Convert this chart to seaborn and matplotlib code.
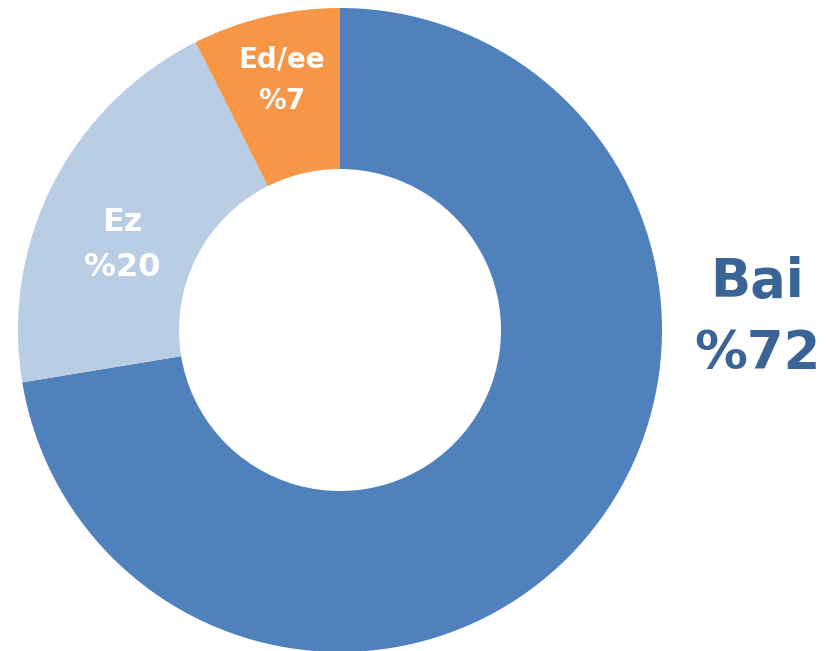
import matplotlib
matplotlib.use("Agg")
import matplotlib.pyplot as plt
import seaborn as sns

categories = ["Bai", "Ez", "Ed/ee"]
shares = [72.4, 20.2, 7.4]
pct_labels = ["%72", "%20", "%7"]
colors = ["#4F81BD", "#B9CDE5", "#F79646"]

sns.set_theme(style="white")
plt.rcParams["font.family"] = ["DejaVu Sans"]

fig = plt.figure(figsize=(8.28, 6.51), dpi=100)
ax = fig.add_axes([18 / 828, -1 / 651, 644 / 828, 644 / 651])

ax.pie(shares, colors=sns.color_palette(colors), startangle=90, counterclock=False,
       radius=1, wedgeprops=dict(width=0.5, linewidth=0))
ax.set_xlim(-1, 1)
ax.set_ylim(-1, 1)
ax.set_aspect("equal")
ax.axis("off")

# label placement: (x, y of first line, line gap, font size, color)
label_style = {
    "Bai": (1.295, 0.15, 0.225, 38, "#3B6496"),
    "Ez": (-0.677, 0.335, 0.14, 23, "white"),
    "Ed/ee": (-0.18, 0.84, 0.13, 20, "white"),
}
for name, pct in zip(categories, pct_labels):
    x, y, gap, size, col = label_style[name]
    ax.text(x, y, name, ha="center", va="center", fontsize=size, fontweight="bold",
            color=col, clip_on=False)
    ax.text(x, y - gap, pct, ha="center", va="center", fontsize=size, fontweight="bold",
            color=col, clip_on=False)

fig.savefig("out.png", dpi=100)
